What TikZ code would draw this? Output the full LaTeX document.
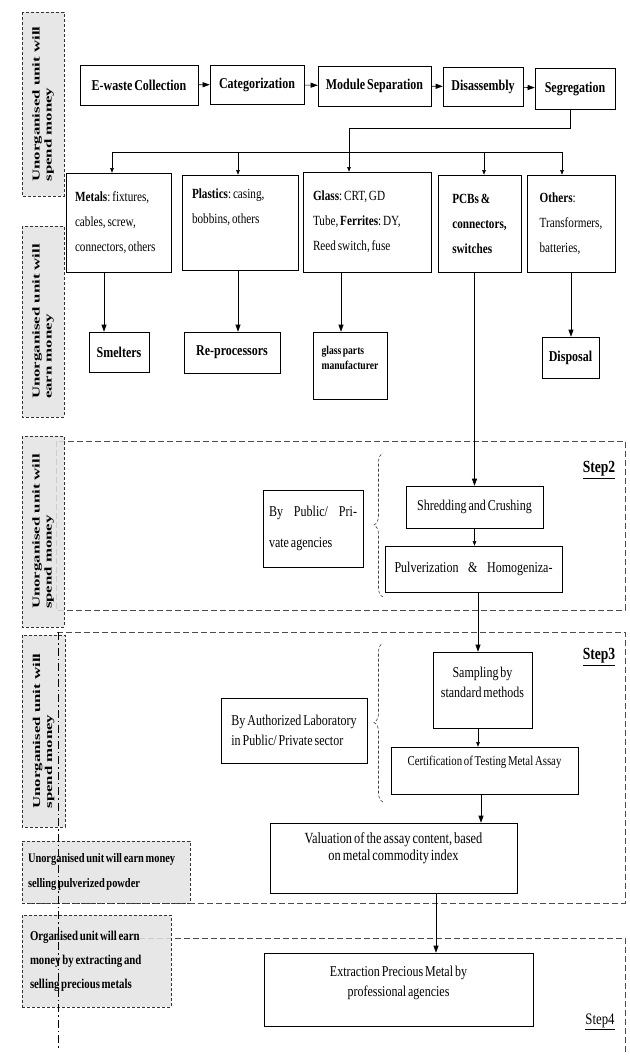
\documentclass[tikz,border=0pt]{standalone}
\usepackage{fontspec}
\setmainfont{Liberation Serif}[FakeStretch=0.8, WordSpace=0.65]
\newfontfamily\widefont{Liberation Serif}[FakeStretch=1.6]
\usetikzlibrary{arrows.meta,decorations.pathreplacing}
\frenchspacing

\begin{document}
\begin{tikzpicture}[x=1pt, y=-1pt,
        box/.style={draw, line width=0.6pt, fill=white, inner sep=2pt, align=center},
        arr/.style={-{Triangle[length=7pt,width=5pt]}, line width=0.6pt},
        tip/.style={-{Triangle[length=4.5pt,width=3.5pt]}, line width=0.5pt},
        frame/.style={draw=black!70, line width=0.6pt, dash pattern=on 6pt off 3pt},
        tag/.style={draw=black!80, line width=0.6pt, dash pattern=on 3pt off 2pt, fill=gray!22, fill opacity=0.85, text opacity=1},
        rot/.style={rotate=90, align=left, font=\widefont\bfseries\fontsize{10.5}{12}\selectfont},
        brc/.style={draw=black!75, line width=0.6pt, dash pattern=on 3pt off 2pt, decorate, decoration={brace, amplitude=9pt}},
        fs/.style 2 args={font=\fontsize{#1}{#2}\selectfont},
        fb/.style 2 args={font=\fontsize{#1}{#2}\selectfont\bfseries}]
        \useasboundingbox (0,0) rectangle (629,1057);
        \fill[white] (0,0) rectangle (629,1057);

        \draw[frame] (56,441) rectangle (625,610);
        \draw[frame] (57,632) -- (625,632) -- (625,903) -- (22,903);
        \draw[frame] (58,938) -- (625,938) -- (625,1052);

        \node[tag, rot, minimum width=184, minimum height=42] (tagA) at (43,104) {Unorganised unit will\\spend money};
        \node[tag, rot, minimum width=191, minimum height=42] (tagB) at (43,321.5) {Unorganised unit will\\earn money};
        \node[tag, rot, minimum width=191, minimum height=42] (tagC) at (43,531.5) {Unorganised unit will\\spend money};
        \node[tag, rot, minimum width=192, minimum height=43] (tagD) at (43.5,731) {Unorganised unit will\\spend money};
        \node[tag, fb={13}{25}, align=flush left, text width=156, inner sep=0, minimum width=168, minimum height=62] (tagE) at (106,872) {Unorganised unit will earn money\\selling pulverized powder};
        \node[tag, fb={13.5}{24}, align=flush left, text width=133, inner sep=0, minimum width=149, minimum height=92] (tagF) at (96.5,961) {Organised unit will earn\\money by extracting and\\selling precious metals};

        \draw[line width=0.6pt, dash pattern=on 8pt off 3pt on 1.5pt off 3pt] (58,632) -- (58,1050);

        \node[box, fb={15}{18}, minimum width=118, minimum height=40] (coll) at (139,85) {E-waste Collection};
        \node[box, fb={15}{18}, minimum width=94, minimum height=39] (categ) at (257,84.5) {Categorization};
        \node[box, fb={15}{18}, minimum width=113, minimum height=40] (modsep) at (374.5,86) {Module Separation};
        \node[box, fb={15}{18}, minimum width=80, minimum height=39] (disas) at (483,86.5) {Disassembly};
        \node[box, fb={15}{18}, minimum width=80, minimum height=41] (segr) at (575,88.5) {Segregation};
        \draw[arr] (coll) -- (categ);
        \draw[arr] (categ) -- (modsep);
        \draw[arr] (modsep) -- (disas);
        \draw[arr] (disas) -- (segr);

        \node[box, fs={14}{25}, align=flush left, text width=87, minimum width=105, minimum height=99] (metals) at (118.5,222.5) {\textbf{Metals}: fixtures,\\cables, screw,\\connectors, others};
        \node[box, minimum width=116, minimum height=95, label={[fs={14}{25}, align=flush left, text width=96, yshift=15.5]center:\textbf{Plastics}: casing,\\bobbins, others}] (plast) at (240,222.5) {};
        \node[box, fs={14}{25}, align=flush left, text width=108, minimum width=128, minimum height=100] (glass) at (367,222) {\textbf{Glass}: CRT, GD\\Tube, \textbf{Ferrites}: DY,\\Reed switch, fuse};
        \node[box, fb={14}{25}, align=left, minimum width=83, minimum height=97] (pcbs) at (479.5,223.5) {PCBs \&\\connectors,\\switches};
        \node[box, fs={14}{25}, align=left, minimum width=88, minimum height=97] (othr) at (571,223.5) {\textbf{Others}:\\Transformers,\\batteries,};

        \coordinate (split) at (349,128);
        \coordinate (b1) at (112,152);
        \coordinate (b2) at (238,152);
        \coordinate (b3) at (349,152);
        \coordinate (b4) at (484,152);
        \coordinate (b5) at (562,152);
        \draw[line width=0.6pt] ([xshift=-5]segr.south) |- (split) -- (b3);
        \draw[line width=0.6pt] (b1) -- (b5);
        \foreach \i/\n in {1/metals, 2/plast, 3/glass, 4/pcbs, 5/othr}
            \draw[tip] (b\i) -- (b\i |- \n.north);

        \node[box, fb={15}{18}, minimum width=60, minimum height=40] (smelt) at (119,352) {Smelters};
        \node[box, fb={15}{18}, minimum width=96, minimum height=41] (repro) at (232,352.5) {Re-processors};
        \node[box, minimum width=74, minimum height=67, label={[fb={12}{15}, align=left, yshift=8]center:glass parts\\manufacturer}] (glassmf) at (350,365.5) {};
        \node[box, fb={15}{18}, minimum width=57, minimum height=41] (disp) at (570.5,357.5) {Disposal};
        \draw[arr] ([xshift=-15]smelt.north |- metals.south) -- ([xshift=-15]smelt.north);
        \draw[arr] ([xshift=6]repro.north |- plast.south) -- ([xshift=6]repro.north);
        \draw[arr] ([xshift=-9]glassmf.north |- glass.south) -- ([xshift=-9]glassmf.north);
        \draw[arr] (othr.south) -- (othr.south |- disp.north);

        \node[box, fs={15}{31}, align=flush left, text width=88, minimum width=100, minimum height=77] (pubag) at (313,528.5) {By\hfill Public/\hfill Pri-\\vate agencies};
        \node[box, fs={15}{18}, minimum width=137, minimum height=42] (shred) at (474.5,507) {Shredding and Crushing};
        \node[box, fs={15}{18}, align=flush left, text width=158, minimum width=177, minimum height=46] (pulv) at (473.5,569) {Pulverization\hfill\&\hfill Homogeniza-};
        \draw[brc] (383,597) -- (383,453);
        \draw[arr] (shred.north |- pcbs.south) -- (shred.north);
        \draw[tip] (shred.south) -- (shred.south |- pulv.north);
        \node[fb={17}{20}] (stepii) at (599,470) {\underline{Step2}};

        \node[box, fs={15}{20}, align=left, minimum width=146, minimum height=65] (authlab) at (294,730.5) {By Authorized Laboratory\\in Public/ Private sector};
        \node[box, minimum width=99, minimum height=76, label={[fs={15}{20}, align=center, yshift=8]center:Sampling by\\standard methods}] (samp) at (482.5,690) {};
        \node[box, minimum width=187, minimum height=47, label={[fs={13.5}{16}, yshift=8.5]center:Certification of Testing Metal Assay}] (cert) at (484.5,770.5) {};
        \node[box, minimum width=247, minimum height=70, label={[fs={15.5}{17}, align=center, yshift=10]center:Valuation of the assay content, based\\on metal commodity index}] (valu) at (393.5,858) {};
        \draw[brc] (383,802) -- (383,643);
        \draw[arr] ([xshift=4.5]pulv.south) -- ([xshift=4.5]pulv.south |- samp.north);
        \draw[tip] ([xshift=-4.5]samp.south) -- ([xshift=-4.5]samp.south |- cert.north);
        \draw[arr] ([xshift=-3.5]cert.south) -- ([xshift=-3.5]cert.south |- valu.north);
        \node[fb={17}{20}] (stepiii) at (599,657) {\underline{Step3}};

        \node[box, minimum width=269, minimum height=73, label={[fs={15}{20}, align=center, yshift=6.5]center:Extraction Precious Metal by\\professional agencies}] (extr) at (398.5,989.5) {};
        \draw[arr] ([xshift=42.5]valu.south) -- ([xshift=42.5]valu.south |- extr.north);
        \node[fs={16}{20}] (stepiv) at (600,1022) {\underline{Step4}};
\end{tikzpicture}
\end{document}
